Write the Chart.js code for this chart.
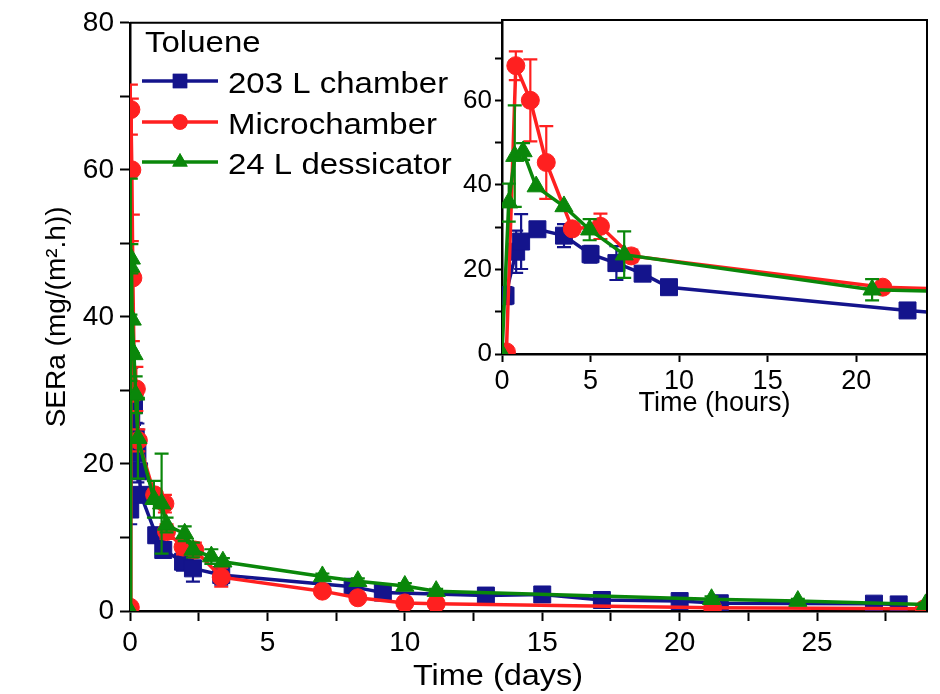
<!DOCTYPE html>
<html>
<head>
<meta charset="utf-8">
<script src="https://cdn.jsdelivr.net/npm/chart.js@4.4.0/dist/chart.umd.min.js"></script>
<style>
  html, body { margin: 0; padding: 0; background: #fff; }
  #wrap { position: relative; width: 940px; height: 694px; }
  #main { position: absolute; left: 0; top: 0; }
  #inset { position: absolute; left: 440px; top: 0; }
</style>
</head>
<body>
<div id="wrap">
  <canvas id="main" width="940" height="694"></canvas>
  <canvas id="inset" width="500" height="424"></canvas>
</div>
<script>
// ---- data ----
const legendTitle = 'Toluene';
const seriesNames = ['203 L chamber', 'Microchamber', '24 L dessicator'];
const seriesColors = ['#14148c', '#ff2020', '#0a870a'];

// first day (hours, from the inset)
const chamberHours = [0.2, 0.8, 1.08, 2.0, 3.5, 5.0, 6.46, 7.94, 9.43, 22.9];
const chamberHoursVal = [13.8, 24.2, 26.6, 29.5, 28.0, 23.6, 21.5, 19.0, 15.8, 10.3];
const chamberHoursErr = [2, 5, 6.5, 1.5, 2.7, 2, 4, 1, 0.5, 1];

const microHours = [0.25, 0.78, 1.6, 2.5, 3.97, 5.56, 7.3, 21.5];
const microHoursVal = [0.5, 68.2, 60, 45.3, 29.6, 30.2, 23.2, 15.8];
const microHoursErr = [0, 3.4, 9.7, 8.6, 0, 3, 1.5, 0.8];

const dessHours = [0, 0.38, 0.72, 1.19, 1.93, 3.5, 4.95, 6.9, 20.9];
const dessHoursVal = [0, 35.8, 46.8, 47.9, 39.6, 34.9, 29.4, 23.5, 15.2];
const dessHoursErr = [0, 4.5, 12, 2, 0, 0, 2.5, 5.5, 2.5];

// later points (days)
const chamberDays = [1.21, 1.93, 2.29, 3.32, 8.1, 9.2, 12.95, 15.0, 17.17, 20.0, 21.46, 27.07, 27.97];
const chamberDaysVal = [8.3, 6.7, 5.8, 4.9, 3.3, 2.5, 2.1, 2.25, 1.5, 1.35, 1.05, 1.0, 0.9];
const chamberDaysErr = [0.6, 1.2, 1.8, 1.3, 0.5, 0.3, 0.5, 0.6, 0.5, 0.4, 0.6, 0.4, 0.4];

const microDays = [1.27, 1.33, 1.93, 2.36, 3.32, 7.0, 8.29, 10.0, 11.14, 21.2, 28.9];
const microDaysVal = [14.6, 10.8, 8.7, 8.3, 4.6, 2.7, 1.8, 1.1, 1.0, 0.45, 0.3];
const microDaysErr = [1.2, 1, 1, 1, 1.3, 0, 0, 0, 0, 0, 0];

const dessDays = [1.15, 1.33, 1.99, 2.29, 2.96, 3.38, 7.0, 8.29, 10.0, 11.14, 21.16, 24.3, 28.95];
const dessDaysVal = [14.6, 11.7, 10.5, 8.3, 7.4, 6.7, 4.7, 4.05, 3.4, 2.7, 1.6, 1.35, 0.9];
const dessDaysErr = [6.8, 1, 1, 1, 1, 0.5, 0.4, 0.4, 0.4, 0.3, 0.4, 0.3, 0.2];

const FONT = 'Arial, "Liberation Sans", sans-serif';
Chart.defaults.font.family = FONT;
Chart.defaults.color = '#000';

const toPoints = (xs, ys) => xs.map((v, i) => ({ x: v, y: ys[i] }));

const groups = [
  { h: chamberHours, hv: chamberHoursVal, he: chamberHoursErr, d: chamberDays, dv: chamberDaysVal, de: chamberDaysErr, style: 'rect', r: 12, order: 3 },
  { h: microHours, hv: microHoursVal, he: microHoursErr, d: microDays, dv: microDaysVal, de: microDaysErr, style: 'circle', r: 9, order: 2 },
  { h: dessHours, hv: dessHoursVal, he: dessHoursErr, d: dessDays, dv: dessDaysVal, de: dessDaysErr, style: 'triangle', r: 10.5, order: 1 }
];

function makeDatasets(inDays) {
  return groups.map((g, i) => ({
    label: seriesNames[i],
    data: inDays
      ? toPoints([...g.h.map(h => h / 24), ...g.d], [...g.hv, ...g.dv])
      : toPoints([...g.h, ...g.d.map(d => d * 24)], [...g.hv, ...g.dv]),
    errors: [...g.he, ...g.de],
    borderColor: seriesColors[i],
    backgroundColor: seriesColors[i],
    pointBackgroundColor: seriesColors[i],
    pointBorderColor: seriesColors[i],
    pointBorderWidth: 1,
    pointStyle: g.style,
    pointRadius: g.r,
    borderWidth: 3.5,
    tension: 0,
    order: g.order
  }));
}

// error bars drawn under each dataset's own markers
const errorBars = {
  id: 'errorBars',
  beforeDatasetDraw(chart, args) {
    const ds = chart.data.datasets[args.index];
    if (!ds.errors) return;
    const { ctx, chartArea, scales: { x, y } } = chart;
    ctx.save();
    ctx.beginPath();
    ctx.rect(chartArea.left, chartArea.top, chartArea.width, chartArea.height);
    ctx.clip();
    ctx.strokeStyle = ds.borderColor;
    ctx.lineWidth = 2.2;
    ds.data.forEach((p, i) => {
      const e = ds.errors[i];
      if (!e) return;
      const px = x.getPixelForValue(p.x);
      const top = y.getPixelForValue(p.y + e);
      const bot = y.getPixelForValue(p.y - e);
      ctx.beginPath();
      ctx.moveTo(px, top); ctx.lineTo(px, bot);
      ctx.moveTo(px - 7, top); ctx.lineTo(px + 7, top);
      ctx.moveTo(px - 7, bot); ctx.lineTo(px + 7, bot);
      ctx.stroke();
    });
    ctx.restore();
  }
};

// top and right lines of the box
const frame = {
  id: 'frame',
  afterDraw(chart) {
    const { ctx, chartArea: a } = chart;
    ctx.save();
    ctx.strokeStyle = '#000';
    ctx.lineWidth = 2;
    ctx.beginPath();
    ctx.moveTo(a.left, a.top); ctx.lineTo(a.right, a.top); ctx.lineTo(a.right, a.bottom);
    ctx.stroke();
    ctx.restore();
  }
};

// the figure's lettering is a bit wide, so stretch hand-drawn text slightly
function wideText(ctx, text, x, y, sx) {
  ctx.save();
  ctx.translate(x, y);
  ctx.scale(sx, 1);
  ctx.fillText(text, 0, 0);
  ctx.restore();
}

const mainExtras = {
  id: 'mainExtras',
  afterDraw(chart) {
    const ctx = chart.ctx;
    ctx.save();
    ctx.fillStyle = '#000';
    // x title (sits left of centre in the figure)
    ctx.font = '29px ' + FONT;
    ctx.textAlign = 'center';
    ctx.textBaseline = 'middle';
    wideText(ctx, 'Time (days)', 498, 677, 1.12);
    // legend
    ctx.textAlign = 'left';
    ctx.textBaseline = 'alphabetic';
    ctx.font = '30px ' + FONT;
    wideText(ctx, legendTitle, 145, 52, 1.1);
    const rows = [81, 122, 162];
    chart.data.datasets.forEach((ds, i) => {
      const y = rows[i];
      ctx.strokeStyle = ds.borderColor;
      ctx.lineWidth = 3.5;
      ctx.beginPath();
      ctx.moveTo(142, y); ctx.lineTo(218, y);
      ctx.stroke();
      ctx.fillStyle = ds.borderColor;
      Chart.helpers.drawPoint(ctx, { pointStyle: ds.pointStyle, radius: ds.pointRadius * 0.85, borderWidth: 0 }, 180, y);
      ctx.fill();
      ctx.fillStyle = '#000';
      wideText(ctx, ds.label, 228, y + 12, 1.1);
    });
    ctx.restore();
  }
};

new Chart(document.getElementById('main'), {
  type: 'line',
  data: { datasets: makeDatasets(true) },
  options: {
    responsive: false,
    animation: false,
    layout: { padding: { left: 36, top: 20, right: 7, bottom: 0 } },
    plugins: { legend: { display: false }, tooltip: { enabled: false } },
    scales: {
      x: {
        type: 'linear', min: 0, max: 29,
        afterFit: s => { s.height = 83; },
        grid: { drawOnChartArea: false, tickLength: 10, tickWidth: 2, tickColor: '#000' },
        border: { color: '#000', width: 2.5 },
        ticks: {
          stepSize: 2.5, includeBounds: false, autoSkip: false, maxRotation: 0, padding: 5,
          font: { size: 28 }, color: '#000',
          callback: v => (v % 5 === 0 ? v : '')
        }
      },
      y: {
        min: 0, max: 80,
        afterFit: s => { s.width = 94; },
        grid: { drawOnChartArea: false, tickLength: 10, tickWidth: 2, tickColor: '#000' },
        border: { color: '#000', width: 2.5 },
        ticks: {
          stepSize: 10, autoSkip: false, padding: 6,
          font: { size: 28 }, color: '#000',
          callback: v => (v % 20 === 0 ? v : '')
        },
        title: { display: true, text: 'SERa (mg/(m².h))', font: { size: 28 }, color: '#000', padding: { top: 4, bottom: 4 } }
      }
    }
  },
  plugins: [errorBars, frame, mainExtras]
});

const insetBackground = {
  id: 'insetBackground',
  beforeDraw(chart) {
    const { ctx, chartArea: a } = chart;
    ctx.save();
    ctx.fillStyle = '#fff';
    ctx.fillRect(a.left, a.top, a.width, a.height);
    ctx.restore();
  }
};

new Chart(document.getElementById('inset'), {
  type: 'line',
  data: { datasets: makeDatasets(false) },
  options: {
    responsive: false,
    animation: false,
    layout: { padding: { left: 0, top: 20, right: 8, bottom: 0 } },
    plugins: { legend: { display: false }, tooltip: { enabled: false } },
    scales: {
      x: {
        type: 'linear', min: 0, max: 24,
        afterFit: s => { s.height = 70; },
        grid: { drawOnChartArea: false, tickLength: 8, tickWidth: 2, tickColor: '#000' },
        border: { color: '#000', width: 2.5 },
        ticks: { stepSize: 5, includeBounds: false, autoSkip: false, maxRotation: 0, padding: 3, font: { size: 27 }, color: '#000' },
        title: { display: true, text: 'Time (hours)', font: { size: 27 }, color: '#000', padding: { top: 0, bottom: 4 } }
      },
      y: {
        min: 0, max: 79,
        afterFit: s => { s.width = 62; },
        grid: { drawOnChartArea: false, tickLength: 7, tickWidth: 2, tickColor: '#000' },
        border: { color: '#000', width: 2.5 },
        ticks: {
          stepSize: 10, includeBounds: false, autoSkip: false, padding: 3,
          font: { size: 26 }, color: '#000',
          callback: v => (v % 20 === 0 ? v : '')
        }
      }
    }
  },
  plugins: [insetBackground, errorBars, frame]
});
</script>
</body>
</html>
